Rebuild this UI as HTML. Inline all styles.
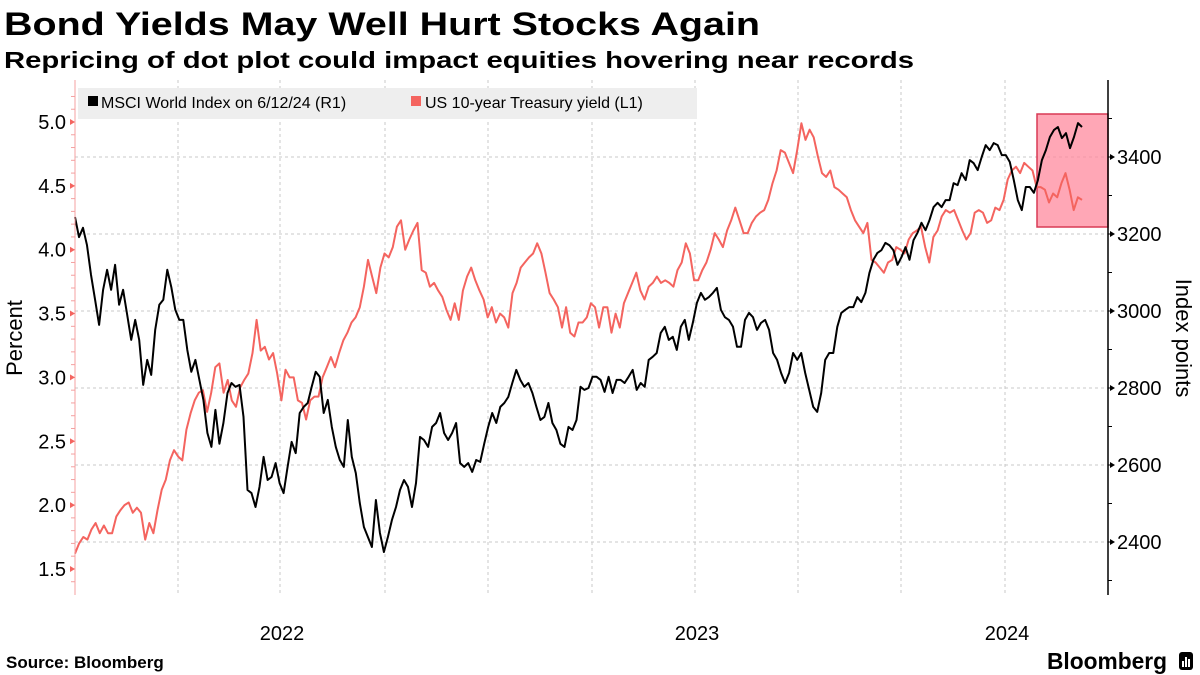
<!DOCTYPE html>
<html><head><meta charset="utf-8">
<style>
html,body{margin:0;padding:0;background:#fff;}
svg{display:block;font-family:"Liberation Sans",sans-serif;}
</style></head>
<body>
<svg id="chart" width="1200" height="675" viewBox="0 0 1200 675" xmlns="http://www.w3.org/2000/svg">
<text x="4" y="35" font-size="32" font-weight="bold" textLength="756" lengthAdjust="spacingAndGlyphs">Bond Yields May Well Hurt Stocks Again</text>
<text x="4" y="68" font-size="23" font-weight="bold" textLength="910" lengthAdjust="spacingAndGlyphs">Repricing of dot plot could impact equities hovering near records</text>
<g id="grid"></g>
<rect x="1037" y="114" width="71" height="113" fill="#ff8a9e" fill-opacity="0.75" stroke="#d83a55" stroke-width="1.5"/>
<g id="series"></g>
<g>
<rect x="78" y="88" width="619" height="31" fill="#eeeeee"/>
<rect x="88" y="96" width="10" height="10" fill="#000"/>
<text x="101" y="108" font-size="16">MSCI World Index on 6/12/24 (R1)</text>
<rect x="411" y="96" width="10" height="10" fill="#f4645f"/>
<text x="425" y="108" font-size="16">US 10-year Treasury yield (L1)</text>
</g>
<g id="axes"></g>
<text transform="translate(22,338) rotate(-90)" text-anchor="middle" font-size="22">Percent</text>
<text transform="translate(1176,338) rotate(90)" text-anchor="middle" font-size="22">Index points</text>
<text x="6" y="668" font-size="17" font-weight="bold">Source: Bloomberg</text>
<text x="1047" y="669" font-size="23" font-weight="bold" textLength="120" lengthAdjust="spacingAndGlyphs">Bloomberg</text>
<g>
<rect x="1179" y="652" width="14" height="18" rx="3" fill="#000"/>
<rect x="1182" y="661" width="2" height="6" fill="#fff"/><rect x="1185" y="657" width="2" height="10" fill="#fff"/><rect x="1188" y="659" width="2" height="8" fill="#fff"/>
</g>
</svg>
<script>
const yieldValues=[1.62,1.70,1.75,1.73,1.81,1.86,1.78,1.84,1.78,1.78,1.91,1.96,2.00,2.02,1.94,1.98,1.94,1.73,1.86,1.78,1.96,2.12,2.20,2.35,2.43,2.38,2.35,2.59,2.72,2.82,2.88,2.90,2.73,2.88,3.08,3.11,2.88,2.98,2.82,2.77,2.92,2.98,3.03,3.19,3.45,3.21,3.24,3.14,3.19,3.03,2.82,3.06,3.00,3.00,2.82,2.80,2.67,2.82,2.85,2.85,3.00,3.08,3.16,
3.08,3.19,3.29,3.35,3.43,3.47,3.55,3.71,3.92,3.79,3.66,3.86,3.97,3.94,4.02,4.18,4.23,4.00,4.08,4.15,4.21,3.84,3.82,3.71,3.74,3.68,3.63,3.53,3.45,3.58,3.45,3.68,3.79,3.86,3.76,3.68,3.61,3.47,3.55,3.43,3.50,3.47,3.39,3.66,3.74,3.86,3.90,3.94,3.97,4.05,3.97,3.82,3.66,3.61,3.55,3.39,3.55,3.35,3.32,3.43,3.43,
3.47,3.58,3.55,3.39,3.55,3.55,3.35,3.50,3.39,3.58,3.66,3.74,3.82,3.68,3.61,3.71,3.74,3.79,3.74,3.76,3.74,3.71,3.84,3.90,4.05,3.97,3.76,3.76,3.84,3.90,4.00,4.13,4.08,4.02,4.15,4.23,4.33,4.23,4.13,4.13,4.21,4.26,4.29,4.31,4.39,4.52,4.62,4.78,4.76,4.68,4.60,4.78,4.99,4.86,4.94,4.88,4.73,4.60,4.57,4.62,4.49,4.47,
4.44,4.41,4.31,4.23,4.18,4.13,4.21,3.92,3.90,3.86,3.82,3.90,3.92,4.02,4.00,3.97,4.08,4.13,4.15,4.18,4.02,3.90,4.10,4.15,4.26,4.31,4.29,4.31,4.23,4.15,4.08,4.13,4.29,4.31,4.29,4.21,4.23,4.33,4.31,4.39,4.55,4.62,4.65,4.60,4.68,4.65,4.62,4.49,4.49,4.47,4.37,4.44,4.41,4.52,4.60,4.47,4.31,4.41,4.39];
const msciValues=[3244,3192,3216,3171,3094,3029,2964,3055,3107,3055,3120,3016,3055,2990,2925,2977,2925,2808,2873,2834,2951,3016,3029,3107,3062,3003,2977,2977,2899,2842,2873,2821,2769,2683,2647,2743,2655,2709,2787,2813,2803,2808,2725,2535,2527,2491,2543,2621,2561,2569,2605,2553,2527,2595,2660,2631,2735,2751,2761,2803,2842,2829,2735,
2769,2699,2647,2613,2595,2717,2621,2579,2501,2439,2413,2387,2509,2424,2374,2413,2457,2491,2535,2561,2543,2491,2553,2673,2665,2647,2699,2709,2735,2683,2665,2683,2709,2605,2595,2605,2582,2613,2608,2655,2699,2735,2709,2751,2761,2777,2813,2847,2821,2803,2813,2787,2751,2717,2725,2761,2709,2691,2655,2647,2699,2691,2717,2803,2795,2800,
2829,2829,2821,2790,2829,2787,2821,2821,2813,2829,2847,2795,2813,2803,2873,2881,2891,2943,2959,2925,2933,2899,2959,2977,2925,2969,3021,3047,3029,3036,3047,3060,3003,2984,2977,2959,2907,2907,2977,2995,2984,2951,2969,2977,2951,2891,2873,2839,2813,2839,2891,2873,2891,2839,2795,2751,2738,2787,2873,2891,2891,2959,2995,3003,3010,3010,
3036,3023,3047,3099,3133,3151,3158,3177,3171,3158,3120,3140,3166,3133,3184,3203,3229,3210,3236,3270,3281,3270,3288,3288,3332,3327,3358,3340,3392,3384,3366,3400,3431,3418,3436,3431,3405,3405,3387,3340,3288,3262,3322,3322,3307,3340,3392,3418,3452,3470,3478,3449,3462,3423,3452,3488,3478];
const leftTicks=[1.5,2.0,2.5,3.0,3.5,4.0,4.5,5.0];
const rightTicks=[2400,2600,2800,3000,3200,3400];
const yearLabels=["2022","2023","2024"];
const yearGridIndex=[1,5,8];

const NS="http://www.w3.org/2000/svg";
const X0=75,X1=1082,PT=80,PB=595,AXL=75,AXR=1108;
function yL(v){return 122+(5.0-v)*127.7;}
function yR(v){return 157+(3400-v)*77/200;}
function xIdx(i,n){return X0+(X1-X0)*i/(n-1);}
function mk(tag,attrs,parent){const e=document.createElementNS(NS,tag);for(const k in attrs)e.setAttribute(k,attrs[k]);parent.appendChild(e);return e;}

const grid=document.getElementById('grid');
const vGrid=[178,280,385,488,592,695,798,901,1005];
vGrid.forEach(function(x){const l=mk('line',{x1:x,x2:x,y1:PT,y2:PB,stroke:'#c8c8c8','stroke-width':1,'stroke-dasharray':'3,3'},grid);

});
rightTicks.forEach(function(v){const l=mk('line',{x1:AXL,x2:AXR,y1:yR(v),y2:yR(v),stroke:'#c8c8c8','stroke-width':1,'stroke-dasharray':'3,3'},grid);

});

const ser=document.getElementById('series');
function path(vals,f){let d='';vals.forEach(function(v,i){d+=(i?'L':'M')+xIdx(i,vals.length).toFixed(1)+','+f(v).toFixed(1);});return d;}
const pY=mk('path',{d:path(yieldValues,yL),fill:'none',stroke:'#f4645f','stroke-width':2,'stroke-linejoin':'round'},ser);


const pM=mk('path',{d:path(msciValues,yR),fill:'none',stroke:'#000','stroke-width':2,'stroke-linejoin':'round'},ser);



const ax=document.getElementById('axes');
const la=mk('line',{x1:AXL,x2:AXL,y1:PT,y2:PB,stroke:'#f4a0a0','stroke-width':1},ax);


for(let v=1.4;v<=5.25;v+=0.1){const y=yL(v);mk('line',{x1:AXL-4,x2:AXL,y1:y,y2:y,stroke:'#f4a0a0','stroke-width':1},ax);}
leftTicks.forEach(function(v){const y=yL(v);
mk('path',{d:'M'+(AXL-5)+','+(y-3)+'L'+AXL+','+y+'L'+(AXL-5)+','+(y+3)+'Z',fill:'#f4645f'},ax);
const t=mk('text',{x:66,y:y+7,'text-anchor':'end','font-size':20},ax);t.textContent=v.toFixed(1);

});
const ra=mk('line',{x1:AXR,x2:AXR,y1:PT,y2:PB,stroke:'#000','stroke-width':1.5},ax);


for(let v=2300;v<=3500;v+=100){const y=yR(v);mk('line',{x1:AXR,x2:AXR+4,y1:y,y2:y,stroke:'#000','stroke-width':1},ax);}
rightTicks.forEach(function(v){const y=yR(v);
mk('path',{d:'M'+(AXR+2)+','+(y-3)+'L'+(AXR+7)+','+y+'L'+(AXR+2)+','+(y+3)+'Z',fill:'#000'},ax);
const t=mk('text',{x:1117,y:y+7,'font-size':20},ax);t.textContent=v;

});
yearLabels.forEach(function(s,i){const t=mk('text',{x:vGrid[yearGridIndex[i]]+2,y:640,'text-anchor':'middle','font-size':20},ax);t.textContent=s;

});
</script>
</body></html>
